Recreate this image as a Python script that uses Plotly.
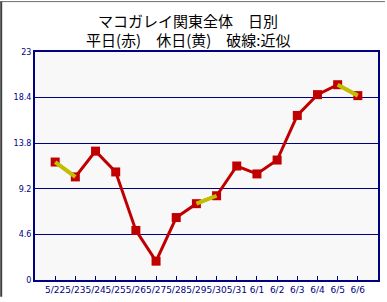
import plotly.graph_objects as go

# Data
dates = ["5/22", "5/23", "5/24", "5/25", "5/26", "5/27", "5/28", "5/29",
         "5/30", "5/31", "6/1", "6/2", "6/3", "6/4", "6/5", "6/6"]
values = [11.9, 10.4, 13.0, 10.9, 5.0, 1.9, 6.3, 7.7,
          8.5, 11.5, 10.7, 12.1, 16.6, 18.7, 19.7, 18.6]
holiday = [True, True, False, False, False, False, False, True,
           True, False, False, False, False, False, True, True]
y_ticks = [0, 4.6, 9.2, 13.8, 18.4, 23]
y_ticktext = ["0", "4.6", "9.2", "13.8", "18.4", "23"]
title_lines = ["マコガレイ関東全体　日別", "平日(赤)　休日(黄)　破線:近似"]

RED = "#c00000"
YEL = "#c0c000"
NAVY = "#000080"

xs = list(range(len(dates)))

fig = go.Figure()
# markers
fig.add_trace(go.Scatter(x=xs, y=values, mode="markers",
                         marker=dict(symbol="square", size=9, color=RED, line=dict(width=0)),
                         hoverinfo="skip", showlegend=False))
# red line through all points
fig.add_trace(go.Scatter(x=xs, y=values, mode="lines",
                         line=dict(color=RED, width=3), hoverinfo="skip", showlegend=False))
# yellow segments between consecutive holidays
for i in range(len(xs) - 1):
    if holiday[i] and holiday[i + 1]:
        fig.add_trace(go.Scatter(x=[xs[i], xs[i + 1]], y=[values[i], values[i + 1]],
                                 mode="lines", line=dict(color=YEL, width=4),
                                 hoverinfo="skip", showlegend=False))

W, H = 345.0, 233.0
L, T = 35, 52


def px(x):
    return (x - L) / W


def py(y):
    return (T + H - y) / H


annotations = [
    dict(text=title_lines[0], xref="paper", yref="paper", x=px(189), y=py(20),
         xanchor="center", yanchor="middle", showarrow=False,
         font=dict(family="Noto Sans CJK JP", size=15, color="black")),
    dict(text=title_lines[1], xref="paper", yref="paper", x=px(189), y=py(39),
         xanchor="center", yanchor="middle", showarrow=False,
         font=dict(family="Noto Sans CJK JP", size=15, color="black")),
]

fig.update_layout(
    width=387, height=302,
    margin=dict(l=35, r=7, t=52, b=17, pad=0),
    paper_bgcolor="white",
    plot_bgcolor="#f8f8f8",
    annotations=annotations,
    xaxis=dict(range=[-1, 16], tickmode="array", tickvals=xs, ticktext=dates,
               tickangle=0, showgrid=False, zeroline=False,
               ticks="inside", ticklen=4, tickcolor=NAVY, tickwidth=1,
               showline=True, linecolor=NAVY, linewidth=2, mirror=True,
               tickfont=dict(family="DejaVu Sans", size=9, color=NAVY), fixedrange=True),
    yaxis=dict(range=[0, 23], tickmode="array", tickvals=y_ticks, ticktext=y_ticktext,
               showgrid=True, gridcolor=NAVY, gridwidth=1, zeroline=False,
               ticks="", showline=True, linecolor=NAVY, linewidth=2, mirror=True,
               tickfont=dict(family="DejaVu Sans", size=8, color=NAVY), fixedrange=True),
    shapes=[
        dict(type="line", xref="paper", yref="paper", x0=px(1), x1=px(1), y0=py(0), y1=py(302),
             line=dict(color="#404040", width=2)),
        dict(type="line", xref="paper", yref="paper", x0=px(0), x1=px(387), y0=py(0.5), y1=py(0.5),
             line=dict(color="#707070", width=1)),
    ],
)

fig.write_html("out.html")
